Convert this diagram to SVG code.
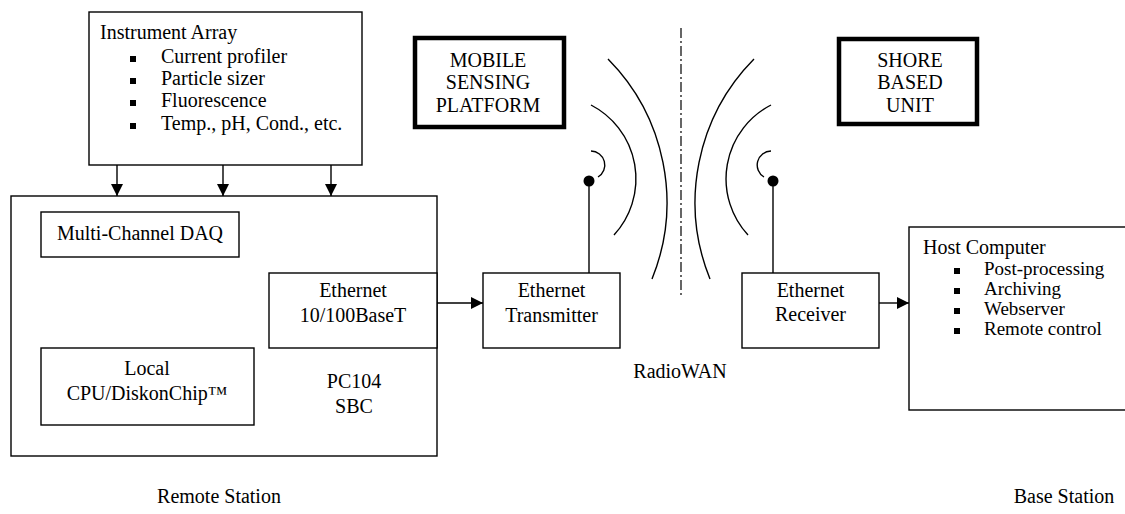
<svg xmlns="http://www.w3.org/2000/svg" width="1125" height="514" viewBox="0 0 1125 514">
<style>
text{font-family:"Liberation Serif","Times New Roman",serif;font-size:20px;fill:#000}
.c{text-anchor:middle}
.s{font-size:19px}
.box{fill:#fff;stroke:#000;stroke-width:1.4}
.thick{fill:#fff;stroke:#000;stroke-width:4.5}
.ln{fill:none;stroke:#000;stroke-width:1.4}
.bul{fill:#000}
</style>
<defs>
<marker id="ah" viewBox="0 0 10 10" refX="10" refY="5" markerWidth="12" markerHeight="12" markerUnits="userSpaceOnUse" orient="auto">
<path d="M0,0 L10,5 L0,10 z" fill="#000"/>
</marker>
</defs>
<rect width="1125" height="514" fill="#fff"/>

<g id="instrument-array">
<rect class="box" x="89" y="12" width="273" height="153"/>
<text x="100" y="39">Instrument Array</text>
<rect class="bul" x="130" y="56" width="6" height="6"/>
<text x="161" y="63">Current profiler</text>
<rect class="bul" x="130" y="78" width="6" height="6"/>
<text x="161" y="85">Particle sizer</text>
<rect class="bul" x="130" y="100" width="6" height="6"/>
<text x="161" y="107">Fluorescence</text>
<rect class="bul" x="130" y="123" width="6" height="6"/>
<text x="161" y="130">Temp., pH, Cond., etc.</text>
</g>

<g id="pc104-sbc">
<rect class="box" x="11" y="196" width="426" height="260"/>
<text class="c" x="354" y="388">PC104</text>
<text class="c" x="354" y="413">SBC</text>
</g>

<g id="daq">
<rect class="box" x="41" y="212" width="198" height="45"/>
<text class="c" x="140" y="240">Multi-Channel DAQ</text>
</g>

<g id="ethernet-card">
<rect class="box" x="269" y="273" width="168" height="75"/>
<text class="c" x="353" y="297">Ethernet</text>
<text class="c" x="353" y="322">10/100BaseT</text>
</g>

<g id="local-cpu">
<rect class="box" x="41" y="348" width="213" height="77"/>
<text class="c" x="147" y="375">Local</text>
<text class="c" x="147" y="400">CPU/DiskonChip™</text>
</g>

<g id="mobile-platform">
<rect class="thick" x="415" y="38" width="149" height="89"/>
<text class="c" x="488" y="67">MOBILE</text>
<text class="c" x="488" y="89">SENSING</text>
<text class="c" x="488" y="112">PLATFORM</text>
</g>

<g id="shore-unit">
<rect class="thick" x="839" y="39" width="138" height="85"/>
<text class="c" x="910" y="67">SHORE</text>
<text class="c" x="910" y="89">BASED</text>
<text class="c" x="910" y="112">UNIT</text>
</g>

<g id="transmitter">
<rect class="box" x="483" y="273" width="137" height="75"/>
<text class="c" x="551.5" y="297">Ethernet</text>
<text class="c" x="551.5" y="322">Transmitter</text>
</g>

<g id="receiver">
<rect class="box" x="742" y="273" width="137" height="75"/>
<text class="c" x="810.5" y="297">Ethernet</text>
<text class="c" x="810.5" y="321">Receiver</text>
</g>

<g id="host-computer">
<rect class="box" x="909" y="227" width="230" height="183"/>
<text x="923" y="254">Host Computer</text>
<rect class="bul" x="954" y="268" width="6" height="6"/>
<text class="s" x="984" y="275">Post-processing</text>
<rect class="bul" x="954" y="288" width="6" height="6"/>
<text class="s" x="984" y="295">Archiving</text>
<rect class="bul" x="954" y="308" width="6" height="6"/>
<text class="s" x="984" y="315">Webserver</text>
<rect class="bul" x="954" y="328" width="6" height="6"/>
<text class="s" x="984" y="335">Remote control</text>
</g>

<g id="tx-antenna">
<line class="ln" x1="589" y1="181" x2="589" y2="273"/>
<circle cx="589" cy="181" r="5.5" fill="#000"/>
<path class="ln" d="M591,151 A14,14 0 0 1 598,177"/>
<path class="ln" d="M591,105 A83,83 0 0 1 614,235"/>
<path class="ln" d="M608,59 A204,204 0 0 1 652,279"/>
</g>

<g id="rx-antenna">
<line class="ln" x1="773" y1="181" x2="773" y2="273"/>
<circle cx="773" cy="181" r="5.5" fill="#000"/>
<path class="ln" d="M771,151 A14,14 0 0 0 764,177"/>
<path class="ln" d="M771,105 A83,83 0 0 0 748,235"/>
<path class="ln" d="M754,59 A204,204 0 0 0 710,279"/>
</g>

<g id="divider">
<line x1="681" y1="28" x2="681" y2="298" stroke="#000" stroke-width="1.2" stroke-dasharray="10,3,2,3"/>
</g>

<g id="connectors">
<line class="ln" x1="117" y1="165" x2="117" y2="196" marker-end="url(#ah)"/>
<line class="ln" x1="223" y1="165" x2="223" y2="196" marker-end="url(#ah)"/>
<line class="ln" x1="331" y1="165" x2="331" y2="196" marker-end="url(#ah)"/>
<line class="ln" x1="437" y1="303" x2="483" y2="303" marker-end="url(#ah)"/>
<line class="ln" x1="879" y1="303" x2="909" y2="303" marker-end="url(#ah)"/>
</g>

<g id="labels">
<text class="c" x="680" y="378">RadioWAN</text>
<text class="c" x="219" y="503">Remote Station</text>
<text class="c" x="1064" y="503">Base Station</text>
</g>
</svg>
